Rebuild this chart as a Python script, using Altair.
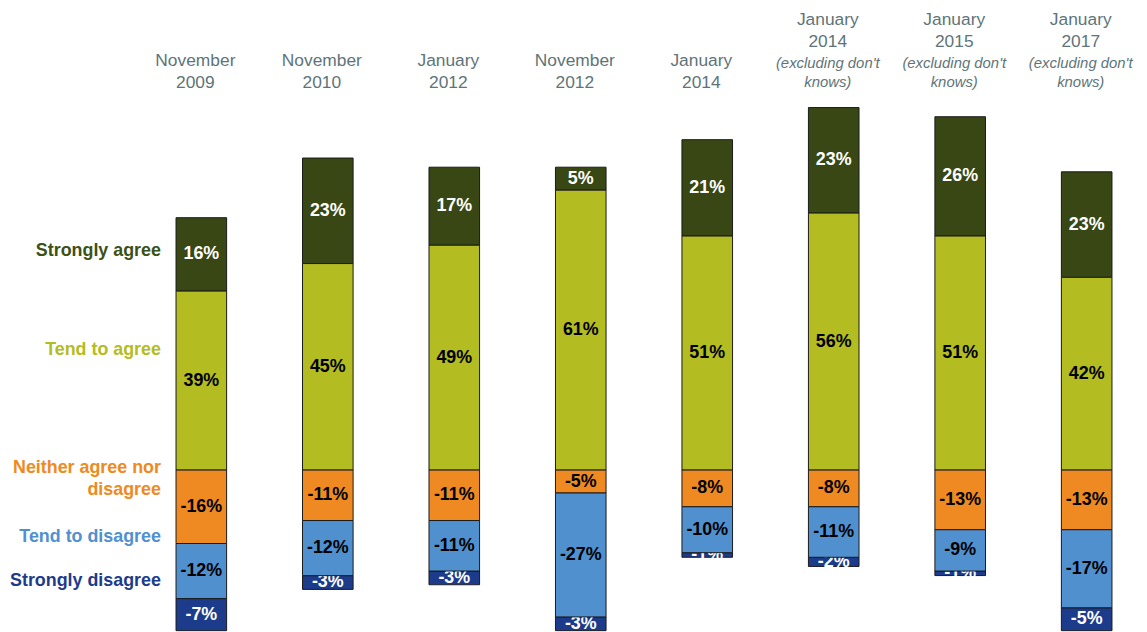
import altair as alt
import pandas as pd

# ---- data -------------------------------------------------------------
keys = ["Nov 2009", "Nov 2010", "Jan 2012", "Nov 2012", "Jan 2014",
        "Jan 2014 excl", "Jan 2015 excl", "Jan 2017 excl"]
months = ["November", "November", "January", "November", "January",
          "January", "January", "January"]
years = ["2009", "2010", "2012", "2012", "2014", "2014", "2015", "2017"]
notes1 = ["", "", "", "", "", "(excluding don't", "(excluding don't", "(excluding don't"]
notes2 = ["", "", "", "", "", "knows)", "knows)", "knows)"]

strongly_agree = [16, 23, 17, 5, 21, 23, 26, 23]
tend_agree = [39, 45, 49, 61, 51, 56, 51, 42]
neither = [-16, -11, -11, -5, -8, -8, -13, -13]
tend_disagree = [-12, -12, -11, -27, -10, -11, -9, -17]
strongly_disagree = [-7, -3, -3, -3, -1, -2, -1, -5]

categories = ["Strongly agree", "Tend to agree", "Neither agree nor disagree",
              "Tend to disagree", "Strongly disagree"]
cat_colors = ["#384714", "#b3bc20", "#ee8a21", "#5090cf", "#1d3b8b"]
label_colors = ["#ffffff", "#000000", "#000000", "#000000", "#ffffff"]
legend_text_colors = ["#3b5116", "#b3bc20", "#ee8a21", "#5090cf", "#1d3b8b"]

# ---- build stacked table ---------------------------------------------
rows = []
masks = []
for i, k in enumerate(keys):
    ta, sa = tend_agree[i], strongly_agree[i]
    ne, td, sd = neither[i], tend_disagree[i], strongly_disagree[i]
    segs = [
        ("Strongly agree", ta, ta + sa, sa),
        ("Tend to agree", 0, ta, ta),
        ("Neither agree nor disagree", 0, ne, ne),
        ("Tend to disagree", ne, ne + td, td),
        ("Strongly disagree", ne + td, ne + td + sd, sd),
    ]
    for cat, a, b, v in segs:
        ci = categories.index(cat)
        rows.append({"key": k, "cat": cat, "y0": a, "y1": b, "mid": (a + b) / 2,
                     "label": f"{v}%", "tcolor": label_colors[ci]})
    masks.append({"key": k, "y0": ne + td + sd, "y1": -40})

df = pd.DataFrame(rows)
mask_df = pd.DataFrame(masks)
hdr = pd.DataFrame({"key": keys, "month": months, "year": years,
                    "note1": notes1, "note2": notes2})

FONT = "Liberation Sans"

x = alt.X("key:N", sort=keys, axis=None,
          scale=alt.Scale(range=[131, 1150], paddingInner=0.6, paddingOuter=0.3))
yscale = alt.Scale(domain=[-40, 100], range=[648, 1], nice=False, zero=False)

color = alt.Color("cat:N", scale=alt.Scale(domain=categories, range=cat_colors), legend=None)

base = alt.Chart(df)

sd_bars = base.transform_filter(alt.datum.cat == "Strongly disagree").mark_bar(
    stroke="#1a1a1a", strokeWidth=1).encode(
    x=x, y=alt.Y("y0:Q", scale=yscale, axis=None), y2="y1:Q", color=color)
sd_text = base.transform_filter(alt.datum.cat == "Strongly disagree").mark_text(
    font=FONT, fontSize=18, fontWeight="bold", baseline="middle").encode(
    x=x, y=alt.Y("mid:Q", scale=yscale, axis=None), text="label:N",
    color=alt.Color("tcolor:N", scale=None))

other_bars = base.transform_filter(alt.datum.cat != "Strongly disagree").mark_bar(
    stroke="#1a1a1a", strokeWidth=1).encode(
    x=x, y=alt.Y("y0:Q", scale=yscale, axis=None), y2="y1:Q", color=color)

mask = alt.Chart(mask_df).mark_bar(fill="white", yOffset=1, width=56).encode(
    x=x, y=alt.Y("y0:Q", scale=yscale, axis=None), y2="y1:Q")

other_text = base.transform_filter(alt.datum.cat != "Strongly disagree").mark_text(
    font=FONT, fontSize=18, fontWeight="bold", baseline="middle").encode(
    x=x, y=alt.Y("mid:Q", scale=yscale, axis=None), text="label:N",
    color=alt.Color("tcolor:N", scale=None))

HCOL = "#5e7479"
HSIZE = 17.5
ISIZE = 15
DX = -6
hbase = alt.Chart(hdr)
two = hbase.transform_filter(alt.datum.note1 == "")
four = hbase.transform_filter(alt.datum.note1 != "")
h1 = two.mark_text(font=FONT, fontSize=HSIZE, color=HCOL, baseline="middle", dx=DX).encode(
    x=x, y=alt.value(51), text="month:N")
h2 = two.mark_text(font=FONT, fontSize=HSIZE, color=HCOL, baseline="middle", dx=DX).encode(
    x=x, y=alt.value(73.5), text="year:N")
h3 = four.mark_text(font=FONT, fontSize=HSIZE, color=HCOL, baseline="middle", dx=DX).encode(
    x=x, y=alt.value(9.5), text="month:N")
h4 = four.mark_text(font=FONT, fontSize=HSIZE, color=HCOL, baseline="middle", dx=DX).encode(
    x=x, y=alt.value(32), text="year:N")
h5 = four.mark_text(font=FONT, fontSize=ISIZE, fontStyle="italic", color=HCOL,
                    baseline="middle", dx=DX).encode(x=x, y=alt.value(53.5), text="note1:N")
h6 = four.mark_text(font=FONT, fontSize=ISIZE, fontStyle="italic", color=HCOL,
                    baseline="middle", dx=DX).encode(x=x, y=alt.value(72), text="note2:N")

leg_lines = ["Strongly agree", "Tend to agree", "Neither agree nor", "disagree",
             "Tend to disagree", "Strongly disagree"]
leg_cols = [legend_text_colors[0], legend_text_colors[1], legend_text_colors[2],
            legend_text_colors[2], legend_text_colors[3], legend_text_colors[4]]
leg_y = [242.5, 342.5, 461.5, 483.5, 530.5, 574.5]
leg_layers = [
    alt.Chart(pd.DataFrame({"t": [t]})).mark_text(
        font=FONT, fontSize=18, fontWeight="bold", align="right", baseline="middle",
        color=c).encode(x=alt.value(154), y=alt.value(yy), text="t:N")
    for t, c, yy in zip(leg_lines, leg_cols, leg_y)
]

chart = alt.layer(sd_bars, sd_text, other_bars, mask, other_text,
                  h1, h2, h3, h4, h5, h6, *leg_layers).properties(
    width=1139, height=624,
    autosize=alt.AutoSizeParams(type="none"),
    padding=0,
).configure_view(stroke=None)

chart.save("out.html", embed_options={"renderer": "svg", "actions": False})
